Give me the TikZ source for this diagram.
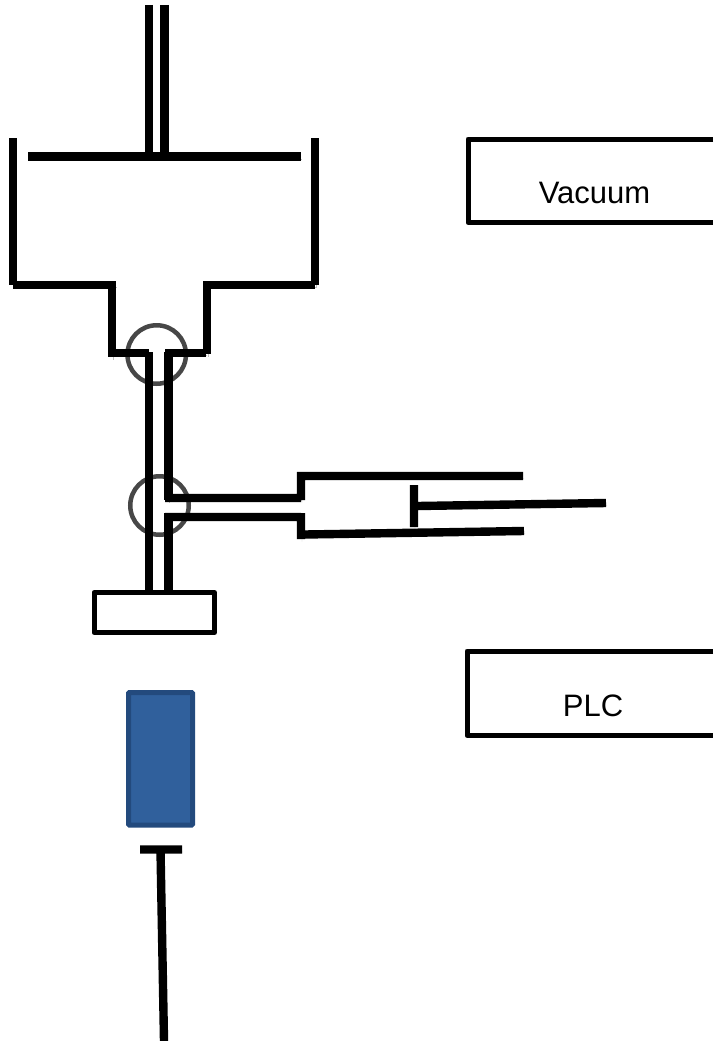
\documentclass[tikz,border=0pt]{standalone}
\usepackage{fontspec}
\setmainfont{Liberation Sans}
\usepackage{tikz}
\usetikzlibrary{positioning}
\tikzset{
  softshadow/.style={preaction={draw=black,draw opacity=0.25,transform canvas={shift={(1pt,-2.5pt)}}}},
  wall/.style={line width=8.4pt,black,softshadow},
  casing/.style={line width=5pt,black,line join=round},
  joint/.style={circle,draw=black,draw opacity=0.72,line width=4.5pt,minimum size=58.5pt,inner sep=0pt,outer sep=0pt},
  lbl/.style={font=\fontsize{31}{36}\selectfont,inner sep=0pt},
}
\definecolor{samplefill}{RGB}{48,96,156}
\definecolor{sampleedge}{RGB}{35,74,125}
\begin{document}
\begin{tikzpicture}[x=1pt,y=-1pt]
\useasboundingbox (0,0) rectangle (713,1041);
% plate and its two pipes
\draw[wall] (149,5) -- (149,152)
            (164.5,5) -- (164.5,156)
            (28,156.5) -- (301,156.5);
% hopper
\draw[wall] (13,138) -- (13,285)
            (13,285) -- (116,285)
            (112,281) -- (112,357)
            (112,353) -- (149,353)
            (315,138) -- (315,285)
            (315,285) -- (203,285)
            (207,281) -- (207,354)
            (206,353) -- (165,353);
% pipes
\draw[wall] (149,352) -- (149,595)
            (168.5,352) -- (168.5,500)
            (168.5,513) -- (168.5,595);
% syringe
\draw[wall] (165,498) -- (301,498)
            (301,500) -- (301,472)
            (297,476) -- (523,476)
            (165,517) -- (301,517)
            (301,513) -- (301,539)
            (305,534.5) -- (524,531)
            (414,485) -- (414,527)
            (418,506) -- (606,503);
% joints
\node[joint] (topjoint) at (156.7,354.5) {};
\node[joint] (midjoint) at (159.5,505.5) {};
% foot and sample
\draw[casing,fill=white] (94,592.5) rectangle (214.5,632.5);
\draw[line width=5pt,draw=sampleedge,fill=samplefill,rounded corners=1pt] (128.5,692.5) rectangle (192.5,825);
\draw[wall] (140,849.5) -- (182,849.5)
            (160.5,850) -- (164,1041);
% boxes on the right
\draw[casing] (713,139) -- (468,139) -- (468,222.5) -- (713,222.5);
\node[lbl] (vacuum) at (594.5,193) {Vacuum};
\draw[casing] (713,651) -- (467,651) -- (467,735.5) -- (713,735.5);
\node[lbl] (plc) at (593,705.5) {PLC};
\end{tikzpicture}
\end{document}
